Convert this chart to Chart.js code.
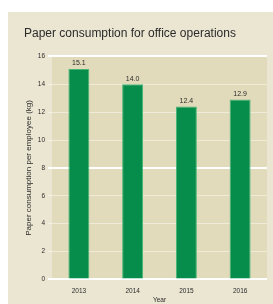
<!DOCTYPE html>
<html>
<head>
<meta charset="utf-8">
<script src="https://cdn.jsdelivr.net/npm/chart.js@4/dist/chart.umd.min.js"></script>
<style>
  html, body { margin: 0; padding: 0; background: #ffffff; }
  #wrap { width: 273px; height: 304px; position: relative; }
</style>
</head>
<body>
<div id="wrap"><canvas id="chart" width="273" height="304"></canvas></div>
<script>
// Paper consumption per employee, by year
var YEARS = ['2013', '2014', '2015', '2016'];
var PAPER_KG = [15.1, 14.0, 12.4, 12.9];
var Y_TICKS = [0, 2, 4, 6, 8, 10, 12, 14, 16];

var PANEL_BG = '#ebe6d2';
var PLOT_BG = '#e1dbbb';
var BAR_FILL = '#078d4b';
var BAR_EDGE = '#45b574';
var TEXT = '#2b2b2b';

Chart.defaults.font.family = "'Liberation Sans', Arial, sans-serif";

// beige panel behind everything + darker plot area
var backdrop = {
  id: 'backdrop',
  beforeDraw: function (chart) {
    var ctx = chart.ctx, a = chart.chartArea;
    ctx.save();
    ctx.fillStyle = PANEL_BG;
    ctx.fillRect(8, 12, chart.width - 8, chart.height - 12);
    ctx.fillStyle = PLOT_BG;
    ctx.fillRect(a.left, a.top, a.right - a.left, a.bottom - a.top);
    ctx.restore();
  }
};

// value printed above each bar
var barValues = {
  id: 'barValues',
  afterDatasetsDraw: function (chart) {
    var ctx = chart.ctx;
    var meta = chart.getDatasetMeta(0);
    ctx.save();
    ctx.fillStyle = TEXT;
    ctx.font = "7px 'Liberation Sans', Arial, sans-serif";
    ctx.textAlign = 'center';
    ctx.textBaseline = 'bottom';
    meta.data.forEach(function (bar, i) {
      ctx.fillText(PAPER_KG[i].toFixed(1), bar.x, bar.y - 2);
    });
    ctx.restore();
  }
};

new Chart(document.getElementById('chart'), {
  type: 'bar',
  data: {
    labels: YEARS,
    datasets: [{
      label: 'Paper consumption',
      data: PAPER_KG,
      backgroundColor: BAR_FILL,
      borderColor: BAR_EDGE,
      borderWidth: 1,
      categoryPercentage: 1,
      barPercentage: 0.39
    }]
  },
  options: {
    responsive: false,
    animation: false,
    layout: { padding: { left: 24, right: 6, top: 26, bottom: 0 } },
    plugins: {
      legend: { display: false },
      tooltip: { enabled: false },
      title: {
        display: true,
        text: 'Paper consumption for office operations',
        align: 'start',
        color: TEXT,
        font: { size: 12, weight: 'normal' },
        padding: { top: 0, bottom: 16 }
      }
    },
    scales: {
      x: {
        grid: { display: false },
        border: { display: false },
        ticks: { color: TEXT, font: { size: 6.5 }, padding: 0 },
        title: { display: true, text: 'Year', color: TEXT, font: { size: 6.5 }, padding: { top: 1, bottom: 0 } }
      },
      y: {
        min: 0,
        max: 16,
        afterBuildTicks: function (scale) {
          scale.ticks = Y_TICKS.map(function (v) { return { value: v }; });
        },
        afterFit: function (scale) { scale.width = 28; },
        border: { display: false },
        grid: {
          color: function (c) { return c.tick && c.tick.value % 8 === 0 ? '#ffffff' : 'rgba(255,255,255,0.45)'; },
          lineWidth: function (c) { return c.tick && c.tick.value % 8 === 0 ? 2 : 1; },
          tickLength: 4,
          drawTicks: true
        },
        ticks: { color: TEXT, font: { size: 6.5 }, padding: 3 },
        title: {
          display: true,
          text: 'Paper consumption per employee (kg)',
          color: TEXT,
          font: { size: 8 },
          padding: { top: 0, bottom: 2 }
        }
      }
    }
  },
  plugins: [backdrop, barValues]
});
</script>
</body>
</html>
